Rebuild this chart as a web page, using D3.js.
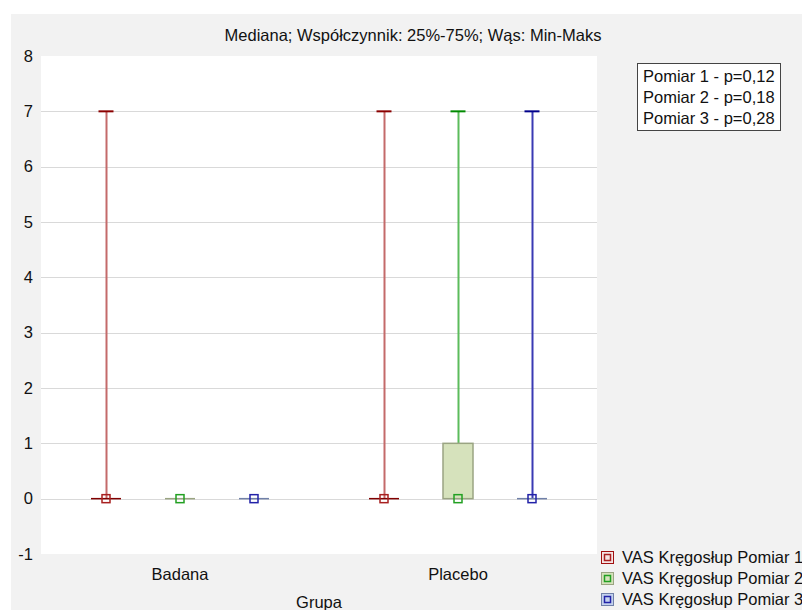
<!DOCTYPE html>
<html>
<head>
<meta charset="utf-8">
<script src="https://cdn.jsdelivr.net/npm/d3@7"></script>
<style>
  body { margin: 0; background: #fff; }
  text { font-family: "Liberation Sans", Arial, sans-serif; }
</style>
</head>
<body>
<div id="chart"></div>
<script>
// ---------- data
const groups = ["Badana", "Placebo"];
const series = ["VAS Kręgosłup Pomiar 1", "VAS Kręgosłup Pomiar 2", "VAS Kręgosłup Pomiar 3"];
// per group, per series: [min, q1, median, q3, max]
const badanaStats = [[0, 0, 0, 0, 7], [0, 0, 0, 0, 0], [0, 0, 0, 0, 0]];
const placeboStats = [[0, 0, 0, 0, 7], [0, 0, 0, 1, 7], [0, 0, 0, 0, 7]];
const pValues = ["Pomiar 1 - p=0,12", "Pomiar 2 - p=0,18", "Pomiar 3 - p=0,28"];
const yTicks = [-1, 0, 1, 2, 3, 4, 5, 6, 7, 8];

// colours per series
const whiskerColor = ["#c46a6a", "#5cbc5c", "#3a3ab4"];
const capColor = ["#8b0000", "#008a00", "#00008b"];
const boxStroke = ["#800000", "#9aa482", "#7080a8"];
const boxFill = ["#f6e4e4", "#d6e2bc", "#c4d2ee"];
const medianColor = ["#a82020", "#22a022", "#2222a8"];

const fs = 16.5;

// ---------- dimensions
const width = 802, height = 610;
const plot = { left: 41, right: 597, top: 56, bottom: 554 };

const svg = d3.select("#chart").append("svg")
    .attr("width", width)
    .attr("height", height);

// backgrounds
svg.append("rect").attr("x", 11).attr("y", 14).attr("width", width - 11).attr("height", height - 14).attr("fill", "#f2f2f2");
svg.append("rect").attr("x", plot.left).attr("y", plot.top)
    .attr("width", plot.right - plot.left).attr("height", plot.bottom - plot.top).attr("fill", "#fff");

// ---------- scales
const x = d3.scaleBand().domain(groups).range([plot.left, plot.right]);
const xs = d3.scalePoint().domain(series).range([-74, 74]);
const y = d3.scaleLinear().domain([-1, 8]).range([plot.bottom, plot.top]);

// grid
svg.append("g").selectAll("line")
    .data(yTicks.filter(d => d >= 0 && d <= 7))
    .join("line")
    .attr("x1", plot.left).attr("x2", plot.right)
    .attr("y1", d => Math.round(y(d)) + 0.5).attr("y2", d => Math.round(y(d)) + 0.5)
    .attr("stroke", "#d9d9d9");

// y axis
const yAxis = svg.append("g")
    .attr("transform", `translate(${plot.left},0)`)
    .call(d3.axisLeft(y).tickValues(yTicks).tickFormat(d => String(d)).tickSize(0).tickPadding(8));
yAxis.select(".domain").remove();
yAxis.selectAll("text").attr("font-size", fs).attr("fill", "#111").attr("font-family", "Liberation Sans, Arial, sans-serif");

// x axis
const xAxis = svg.append("g")
    .attr("transform", `translate(0,${plot.bottom})`)
    .call(d3.axisBottom(x).tickSize(0).tickPadding(14));
xAxis.select(".domain").remove();
xAxis.selectAll("text").attr("font-size", fs).attr("fill", "#111").attr("font-family", "Liberation Sans, Arial, sans-serif");

// titles
svg.append("text").attr("x", 413).attr("y", 41).attr("text-anchor", "middle")
    .attr("font-size", fs).attr("fill", "#111").text("Mediana; Współczynnik: 25%-75%; Wąs: Min-Maks");
svg.append("text").attr("x", (plot.left + plot.right) / 2).attr("y", 608).attr("text-anchor", "middle")
    .attr("font-size", fs).attr("fill", "#111").text("Grupa");

// ---------- boxes
const boxData = [];
groups.forEach((g, gi) => {
  const stats = gi === 0 ? badanaStats : placeboStats;
  stats.forEach((s, si) => boxData.push({ g, si, min: s[0], q1: s[1], med: s[2], q3: s[3], max: s[4] }));
});

const boxW = 30, capW = 15, medS = 8;
const bx = d => x(d.g) + x.bandwidth() / 2 + xs(series[d.si]);

const boxes = svg.append("g").selectAll("g").data(boxData).join("g");

// whiskers
boxes.filter(d => d.max > d.q3).append("line")
    .attr("x1", d => Math.round(bx(d)) + 0.5).attr("x2", d => Math.round(bx(d)) + 0.5)
    .attr("y1", d => y(d.q3)).attr("y2", d => y(d.max))
    .attr("stroke", d => whiskerColor[d.si]).attr("stroke-width", 2);
boxes.filter(d => d.max > d.q3).append("line")
    .attr("x1", d => bx(d) - capW / 2).attr("x2", d => bx(d) + capW / 2)
    .attr("y1", d => y(d.max)).attr("y2", d => y(d.max))
    .attr("stroke", d => capColor[d.si]).attr("stroke-width", 2);

// box (flat when q1 == q3)
boxes.filter(d => d.q3 > d.q1).append("rect")
    .attr("x", d => bx(d) - boxW / 2).attr("width", boxW)
    .attr("y", d => y(d.q3)).attr("height", d => y(d.q1) - y(d.q3))
    .attr("fill", d => boxFill[d.si]).attr("stroke", d => boxStroke[d.si]).attr("stroke-width", 1.5);
boxes.filter(d => d.q3 === d.q1).append("line")
    .attr("x1", d => bx(d) - boxW / 2).attr("x2", d => bx(d) + boxW / 2)
    .attr("y1", d => y(d.q1)).attr("y2", d => y(d.q1))
    .attr("stroke", d => boxStroke[d.si]).attr("stroke-width", 1.5);

// median markers
boxes.append("rect")
    .attr("x", d => bx(d) - medS / 2).attr("y", d => y(d.med) - medS / 2)
    .attr("width", medS).attr("height", medS)
    .attr("fill", "none").attr("stroke", d => medianColor[d.si]).attr("stroke-width", 1.5);

// ---------- p-value box
const pBox = svg.append("g").attr("transform", "translate(637,63)");
pBox.append("rect").attr("x", 0.5).attr("y", 0.5).attr("width", 143).attr("height", 67)
    .attr("fill", "#fff").attr("stroke", "#444");
pBox.selectAll("text").data(pValues).join("text")
    .attr("x", 6).attr("y", (d, i) => 19 + i * 21)
    .attr("font-size", fs).attr("fill", "#111").text(d => d);

// ---------- series legend
const leg = svg.append("g").attr("transform", "translate(601,551)");
const items = leg.selectAll("g").data(series).join("g")
    .attr("transform", (d, i) => `translate(0,${i * 21})`);
items.append("rect").attr("x", 0.5).attr("y", 0.5).attr("width", 12).attr("height", 12)
    .attr("fill", (d, i) => boxFill[i]).attr("stroke", (d, i) => i === 0 ? "#a01010" : boxStroke[i]);
items.append("rect").attr("x", 3.5).attr("y", 3.5).attr("width", 6).attr("height", 6)
    .attr("fill", "none").attr("stroke", (d, i) => medianColor[i]).attr("stroke-width", 1.5);
items.append("text").attr("x", 21).attr("y", 12)
    .attr("font-size", fs).attr("fill", "#111").text(d => d);
</script>
</body>
</html>
